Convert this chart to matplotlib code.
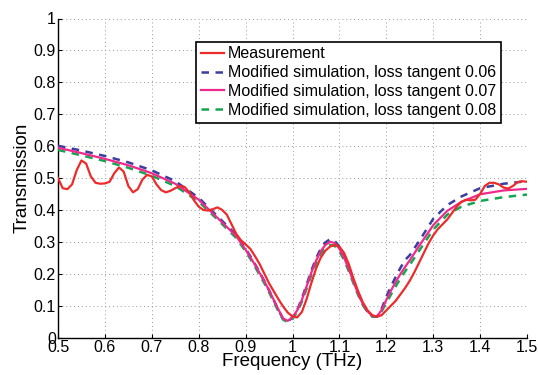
import matplotlib
matplotlib.use("Agg")
import matplotlib.pyplot as plt

plt.rcParams['font.family'] = ['Liberation Sans', 'DejaVu Sans']

# Measurement (0.01 THz steps)
freq_meas = [round(0.50 + 0.01 * i, 2) for i in range(101)]
measurement = [
    0.500, 0.468, 0.465, 0.480, 0.525, 0.555, 0.545, 0.505, 0.485, 0.482,  # 0.50-0.59
    0.483, 0.488, 0.515, 0.533, 0.520, 0.475, 0.455, 0.465, 0.495, 0.510,  # 0.60-0.69
    0.505, 0.480, 0.462, 0.455, 0.460, 0.468, 0.475, 0.472, 0.455, 0.430,  # 0.70-0.79
    0.410, 0.400, 0.398, 0.402, 0.408, 0.400, 0.385, 0.355, 0.325, 0.305,  # 0.80-0.89
    0.292, 0.278, 0.255, 0.230, 0.200, 0.170, 0.145, 0.120, 0.097, 0.078,  # 0.90-0.99
    0.066, 0.063, 0.080, 0.120, 0.170, 0.215, 0.250, 0.272, 0.285, 0.290,  # 1.00-1.09
    0.285, 0.265, 0.230, 0.185, 0.145, 0.110, 0.085, 0.070, 0.065, 0.070,  # 1.10-1.19
    0.085, 0.100, 0.115, 0.135, 0.155, 0.178, 0.205, 0.235, 0.265, 0.295,  # 1.20-1.29
    0.320, 0.340, 0.355, 0.370, 0.390, 0.410, 0.425, 0.432, 0.430, 0.432,  # 1.30-1.39
    0.450, 0.475, 0.485, 0.485, 0.480, 0.470, 0.467, 0.475, 0.487, 0.490,  # 1.40-1.49
    0.488,
]

# Simulations
freq_sim = [0.50, 0.55, 0.60, 0.65, 0.70, 0.75, 0.80, 0.84, 0.88, 0.90,
            0.91, 0.92, 0.93, 0.94, 0.95, 0.96, 0.97, 0.98, 0.99, 1.00,
            1.01, 1.02, 1.03, 1.04, 1.05, 1.06, 1.07, 1.08, 1.09, 1.10,
            1.11, 1.12, 1.13, 1.14, 1.15, 1.16, 1.17, 1.18, 1.19, 1.20,
            1.21, 1.22, 1.23, 1.24, 1.25, 1.27, 1.30, 1.33, 1.36, 1.40,
            1.45, 1.50]

sim_006 = [0.601, 0.586, 0.569, 0.549, 0.524, 0.490, 0.438, 0.380, 0.322, 0.278,
           0.255, 0.230, 0.204, 0.177, 0.148, 0.117, 0.086, 0.058, 0.050, 0.063,
           0.086, 0.122, 0.165, 0.209, 0.247, 0.278, 0.298, 0.308, 0.303, 0.284,
           0.254, 0.217, 0.176, 0.137, 0.104, 0.080, 0.066, 0.065, 0.090, 0.128,
           0.160, 0.190, 0.218, 0.243, 0.258, 0.302, 0.372, 0.415, 0.442, 0.468,
           0.482, 0.490]

sim_007 = [0.595, 0.578, 0.560, 0.540, 0.515, 0.482, 0.432, 0.375, 0.318, 0.275,
           0.252, 0.228, 0.202, 0.176, 0.148, 0.118, 0.088, 0.060, 0.052, 0.064,
           0.085, 0.118, 0.160, 0.203, 0.240, 0.270, 0.290, 0.300, 0.296, 0.278,
           0.250, 0.215, 0.175, 0.137, 0.105, 0.082, 0.068, 0.066, 0.086, 0.118,
           0.147, 0.174, 0.199, 0.221, 0.242, 0.287, 0.352, 0.397, 0.425, 0.449,
           0.461, 0.466]

sim_008 = [0.588, 0.571, 0.553, 0.532, 0.507, 0.475, 0.426, 0.370, 0.312, 0.270,
           0.247, 0.222, 0.196, 0.170, 0.142, 0.112, 0.082, 0.056, 0.048, 0.058,
           0.080, 0.112, 0.153, 0.195, 0.232, 0.262, 0.281, 0.290, 0.287, 0.270,
           0.243, 0.208, 0.170, 0.133, 0.102, 0.080, 0.066, 0.066, 0.082, 0.108,
           0.135, 0.160, 0.185, 0.207, 0.228, 0.272, 0.338, 0.385, 0.410, 0.428,
           0.440, 0.448]

labels = ["Measurement",
          "Modified simulation, loss tangent 0.06",
          "Modified simulation, loss tangent 0.07",
          "Modified simulation, loss tangent 0.08"]

xticks = [0.5, 0.6, 0.7, 0.8, 0.9, 1.0, 1.1, 1.2, 1.3, 1.4, 1.5]
xticklabels = ["0.5", "0.6", "0.7", "0.8", "0.9", "1", "1.1", "1.2", "1.3", "1.4", "1.5"]
yticks = [0, 0.1, 0.2, 0.3, 0.4, 0.5, 0.6, 0.7, 0.8, 0.9, 1.0]
yticklabels = ["0", "0.1", "0.2", "0.3", "0.4", "0.5", "0.6", "0.7", "0.8", "0.9", "1"]

fig = plt.figure(figsize=(5.38, 3.75), dpi=100)
ax = fig.add_axes([58 / 538, 37.5 / 375, 469 / 538, 319 / 375])

c_red = "#ec2b2b"
c_blue = "#3a3f9e"
c_pink = "#ee2a8c"
c_green = "#14a552"

ax.plot(freq_meas, measurement, color=c_red, lw=1.6, label=labels[0], zorder=5)
ax.plot(freq_sim, sim_006, color=c_blue, lw=1.8, ls=(0, (3.0, 2.6)), label=labels[1], zorder=3)
ax.plot(freq_sim, sim_007, color=c_pink, lw=1.6, label=labels[2], zorder=4)
ax.plot(freq_sim, sim_008, color=c_green, lw=1.8, ls=(0, (3.0, 2.6)), label=labels[3], zorder=3)

ax.set_xlim(0.5, 1.5)
ax.set_ylim(0, 1)
ax.set_xticks(xticks)
ax.set_xticklabels(xticklabels)
ax.set_yticks(yticks)
ax.set_yticklabels(yticklabels)
ax.tick_params(direction="in", length=3, width=0.8, labelsize=11.5, pad=1.5)
ax.grid(True, ls=(0, (1, 3)), color="#999999", lw=0.7)
for s in ["top", "right"]:
    ax.spines[s].set_visible(False)
for s in ["left", "bottom"]:
    ax.spines[s].set_linewidth(1.0)
    ax.spines[s].set_color("black")

ax.set_xlabel("Frequency (THz)", fontsize=13.5, labelpad=-1)
ax.set_ylabel("Transmission", fontsize=13.5, labelpad=2)

leg = ax.legend(loc="upper left", bbox_to_anchor=(138 / 469, 296 / 319), borderaxespad=0,
                fontsize=11.5, frameon=True, fancybox=False, edgecolor="black",
                framealpha=1, handlelength=1.45, handletextpad=0.25, labelspacing=0.24,
                borderpad=0.3)
leg.get_frame().set_linewidth(1.2)

fig.savefig("out.png", dpi=100)
